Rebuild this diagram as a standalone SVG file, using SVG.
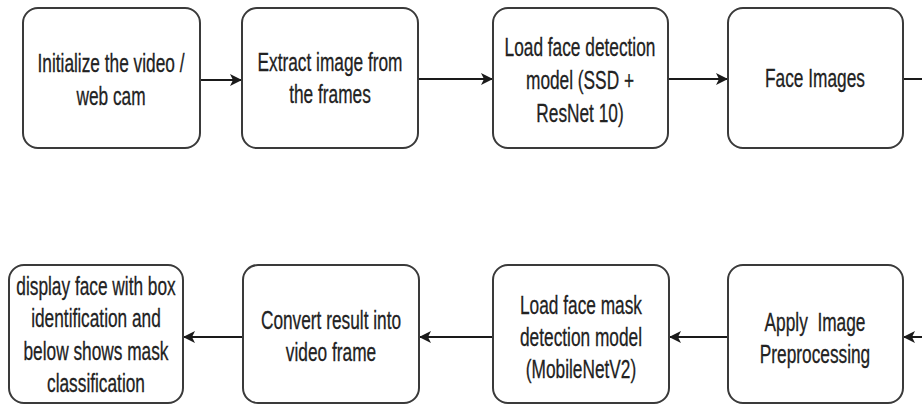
<svg xmlns="http://www.w3.org/2000/svg" width="922" height="405" viewBox="0 0 922 405">
  <defs>
    <marker id="arr" markerWidth="12" markerHeight="12" refX="11" refY="6" orient="auto" markerUnits="userSpaceOnUse">
      <path d="M0,0 L12,6 L0,12 L3,6 Z" fill="#1a1a1a"/>
    </marker>
  </defs>
  <style>
    .box { fill: #ffffff; stroke: #3a3a3a; stroke-width: 2; }
    .lbl { font-family: "Liberation Sans", Arial, sans-serif; font-size: 26px; fill: #222222; stroke: #222222; stroke-width: 0.3; text-anchor: middle; }
    .conn { stroke: #1a1a1a; stroke-width: 2; fill: none; }
  </style>
  <rect width="922" height="405" fill="#ffffff"/>

  <g id="connectors">
    <line class="conn" x1="200" y1="80" x2="241" y2="80" marker-end="url(#arr)"/>
    <line class="conn" x1="418" y1="79" x2="492" y2="79" marker-end="url(#arr)"/>
    <line class="conn" x1="668" y1="79" x2="727" y2="79" marker-end="url(#arr)"/>
    <line class="conn" x1="903" y1="79" x2="922" y2="79"/>
    <line class="conn" x1="922" y1="337" x2="904" y2="337" marker-end="url(#arr)"/>
    <line class="conn" x1="728" y1="337" x2="670" y2="337" marker-end="url(#arr)"/>
    <line class="conn" x1="493" y1="337" x2="420" y2="337" marker-end="url(#arr)"/>
    <line class="conn" x1="243" y1="337" x2="184" y2="337" marker-end="url(#arr)"/>
  </g>

  <g id="n1">
    <rect class="box" x="23" y="8" width="177" height="140" rx="15"/>
    <g transform="translate(111,0) scale(0.665,1)">
      <text class="lbl" x="0" y="72">Initialize the video /</text>
      <text class="lbl" x="0" y="105">web cam</text>
    </g>
  </g>
  <g id="n2">
    <rect class="box" x="242" y="8" width="176" height="140" rx="15"/>
    <g transform="translate(330,0) scale(0.665,1)">
      <text class="lbl" x="0" y="71">Extract image from</text>
      <text class="lbl" x="0" y="103">the frames</text>
    </g>
  </g>
  <g id="n3">
    <rect class="box" x="493" y="8" width="175" height="140" rx="15"/>
    <g transform="translate(580,0) scale(0.665,1)">
      <text class="lbl" x="0" y="56">Load face detection</text>
      <text class="lbl" x="0" y="89">model (SSD +</text>
      <text class="lbl" x="0" y="122">ResNet 10)</text>
    </g>
  </g>
  <g id="n4">
    <rect class="box" x="728" y="8" width="175" height="140" rx="15"/>
    <g transform="translate(815,0) scale(0.665,1)">
      <text class="lbl" x="0" y="87">Face Images</text>
    </g>
  </g>

  <g id="n5">
    <rect class="box" x="728" y="265" width="175" height="138" rx="15"/>
    <g transform="translate(815,0) scale(0.665,1)">
      <text class="lbl" x="0" y="331" xml:space="preserve">Apply  Image</text>
      <text class="lbl" x="0" y="363">Preprocessing</text>
    </g>
  </g>
  <g id="n6">
    <rect class="box" x="493" y="265" width="176" height="138" rx="15"/>
    <g transform="translate(581,0) scale(0.665,1)">
      <text class="lbl" x="0" y="314">Load face mask</text>
      <text class="lbl" x="0" y="346">detection model</text>
      <text class="lbl" x="0" y="378">(MobileNetV2)</text>
    </g>
  </g>
  <g id="n7">
    <rect class="box" x="243" y="265" width="176" height="138" rx="15"/>
    <g transform="translate(331,0) scale(0.665,1)">
      <text class="lbl" x="0" y="329">Convert result into</text>
      <text class="lbl" x="0" y="361">video frame</text>
    </g>
  </g>
  <g id="n8">
    <rect class="box" x="9" y="265" width="174" height="138" rx="15"/>
    <g transform="translate(96,0) scale(0.665,1)">
      <text class="lbl" x="0" y="295">display face with box</text>
      <text class="lbl" x="0" y="327">identification and</text>
      <text class="lbl" x="0" y="360">below shows mask</text>
      <text class="lbl" x="0" y="392">classification</text>
    </g>
  </g>
</svg>
